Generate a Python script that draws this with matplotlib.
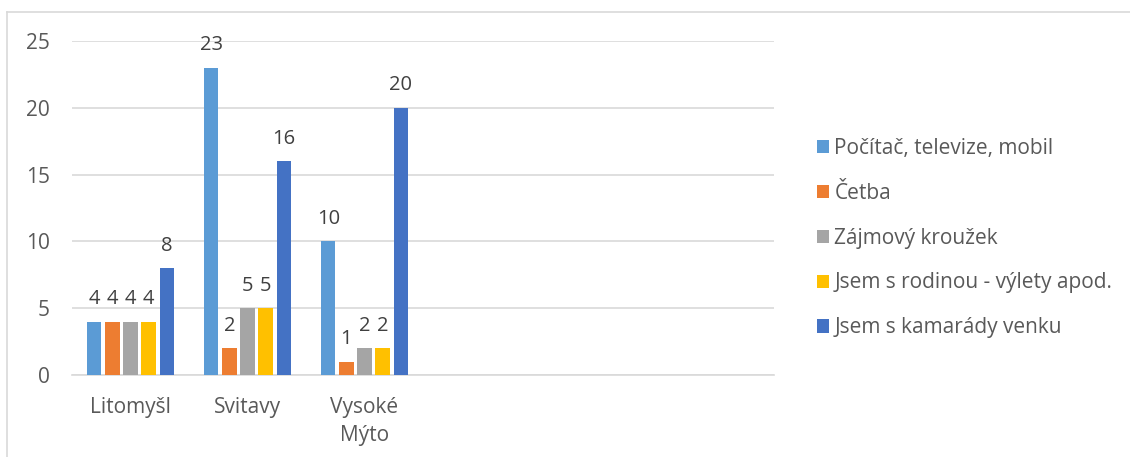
import numpy as np
import matplotlib
matplotlib.use("Agg")
from matplotlib import pyplot as plt
from matplotlib.lines import Line2D

# categories (last three slots are empty in the original chart)
mesta = ["Litomyšl", "Svitavy", "Vysoké\nMýto", "", "", ""]
serie = ["Počítač, televize, mobil", "Četba", "Zájmový kroužek",
         "Jsem s rodinou - výlety apod.", "Jsem s kamarády venku"]
pocitac = [4, 23, 10]
cetba = [4, 2, 1]
krouzek = [4, 5, 2]
rodina = [4, 5, 2]
kamaradi = [8, 16, 20]
barvy = ["#5B9BD5", "#ED7D31", "#A5A5A5", "#FFC000", "#4472C4"]
yticks = [0, 5, 10, 15, 20, 25]

hodnoty = [pocitac, cetba, krouzek, rodina, kamaradi]
txt = "#595959"
plt.rcParams['font.family'] = ['Open Sans', 'DejaVu Sans']

fig = plt.figure(figsize=(11.3, 4.57), dpi=100)
ax = fig.add_axes([72/1130, 1-375/457, 702/1130, 334/457])

x = np.arange(len(mesta))
step = 0.154
w = 0.12
for i, (vals, c, name) in enumerate(zip(hodnoty, barvy, serie)):
    xs = x[:len(vals)] + (i - 2) * step
    bars = ax.bar(xs, vals, width=w, color=c, label=name, zorder=3)
    for b, v in zip(bars, vals):
        ax.annotate(str(v), (b.get_x() + b.get_width()/2, v),
                    xytext=(0, 9), textcoords="offset points",
                    ha="center", va="bottom", fontsize=14.5, color="#404040")

ax.set_xlim(-0.5, len(mesta) - 0.5)
ax.set_ylim(0, 25)
ax.set_yticks(yticks)
ax.set_xticks(x)
ax.set_xticklabels(mesta, linespacing=1.45)
ax.grid(axis="y", color="#D9D9D9", linewidth=1.2, zorder=0)
for s in ["top", "right", "left"]:
    ax.spines[s].set_visible(False)
ax.spines["bottom"].set_color("#D9D9D9")
ax.spines["bottom"].set_linewidth(1.2)
ax.tick_params(length=0, colors=txt, labelsize=15)
ax.tick_params(axis="y", pad=16)
ax.tick_params(axis="x", pad=16)

h, l = ax.get_legend_handles_labels()
leg = fig.legend(h, l, loc="center left", bbox_to_anchor=(798/1130, 1-238/457),
                 frameon=False, fontsize=15, labelspacing=1.15,
                 handlelength=0.6, handleheight=0.6, handletextpad=0.25)
for t in leg.get_texts():
    t.set_color(txt)

# chart area border (top and left visible)
fig.add_artist(Line2D([7/1130, 1], [1-12/457, 1-12/457], color="#D9D9D9", lw=1.2))
fig.add_artist(Line2D([7/1130, 7/1130], [0, 1-12/457], color="#D9D9D9", lw=1.2))

fig.savefig("out.png", dpi=100, facecolor="white")
